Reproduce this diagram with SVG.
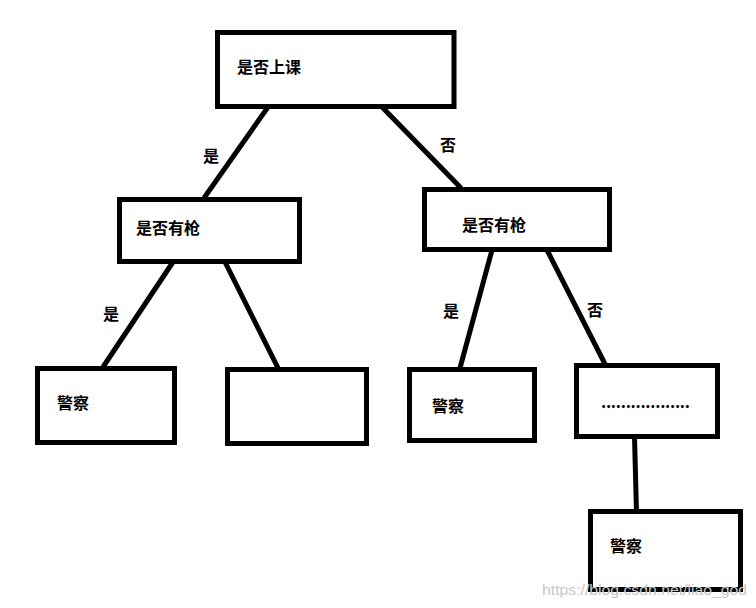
<svg xmlns="http://www.w3.org/2000/svg" width="756" height="608" viewBox="0 0 756 608">
<style>
.box{fill:#fff;stroke:#000;stroke-width:5}
.ln{stroke:#000;stroke-width:5;fill:none}
.t{font-family:"Noto Sans CJK SC","Microsoft YaHei",sans-serif;font-size:16px;font-weight:bold;fill:#000}
.lb{font-family:"Noto Sans CJK SC",sans-serif;font-size:16px;font-weight:bold;fill:#000}
.wm{font-family:"Liberation Sans",Arial,sans-serif;font-size:15px;fill:#c8c8c8}
</style>
<rect width="756" height="608" fill="#fff"/>
<g id="connectors">
<line class="ln" x1="268" y1="107" x2="204" y2="198"/>
<line class="ln" x1="382" y1="107" x2="461" y2="188"/>
<line class="ln" x1="173" y1="262" x2="103" y2="367"/>
<line class="ln" x1="225" y1="262" x2="278" y2="368"/>
<line class="ln" x1="492" y1="250" x2="460" y2="368"/>
<line class="ln" x1="547" y1="250" x2="605" y2="364"/>
<line class="ln" x1="634.5" y1="437" x2="636.5" y2="512"/>
<text class="lb" x="203" y="162">是</text>
<text class="lb" x="440" y="151">否</text>
<text class="lb" x="103" y="320">是</text>
<text class="lb" x="443" y="317">是</text>
<text class="lb" x="587" y="316">否</text>
</g>
<g id="n1">
<rect class="box" x="217.5" y="32.5" width="236.5" height="74"/>
<text class="t" x="237" y="73">是否上课</text>
</g>
<g id="n2">
<rect class="box" x="119.5" y="199.5" width="180" height="62"/>
<text class="t" x="136" y="234">是否有枪</text>
</g>
<g id="n3">
<rect class="box" x="424.5" y="189.5" width="185" height="60"/>
<text class="t" x="462" y="231">是否有枪</text>
</g>
<g id="n4">
<rect class="box" x="37.5" y="368.5" width="137" height="74"/>
<text class="t" x="57" y="409">警察</text>
</g>
<g id="n5">
<rect class="box" x="227.5" y="369.5" width="139" height="74"/>
</g>
<g id="n6">
<rect class="box" x="409.5" y="369.5" width="125" height="71"/>
<text class="t" x="432" y="412">警察</text>
</g>
<g id="n7">
<rect class="box" x="576.5" y="365.5" width="141" height="71"/>
<text class="t" x="601" y="408" textLength="89" lengthAdjust="spacing">..................</text>
</g>
<g id="n8">
<rect class="box" x="590.5" y="511.5" width="150" height="78"/>
<text class="t" x="610" y="552">警察</text>
</g>
<text class="wm" x="542" y="595" textLength="205" lengthAdjust="spacingAndGlyphs">https://blog.csdn.net/liao_god</text>
</svg>
